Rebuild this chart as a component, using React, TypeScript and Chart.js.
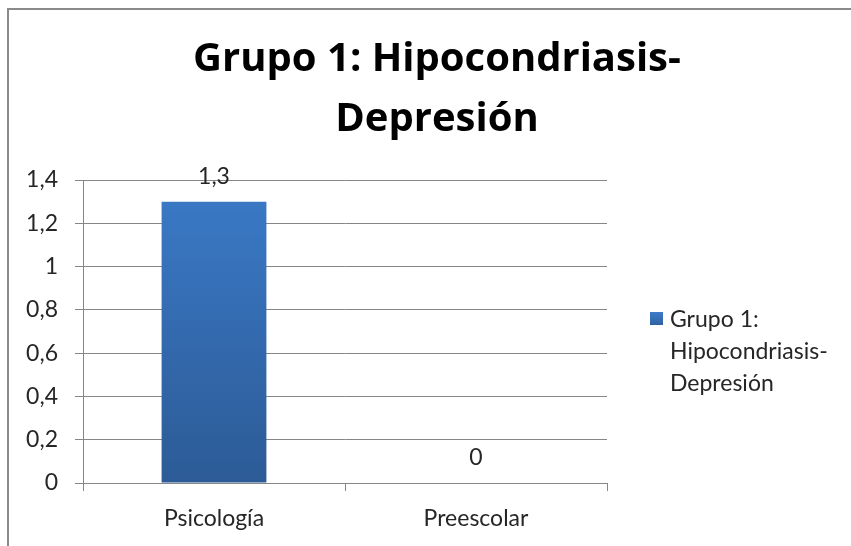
import React, { useEffect, useRef } from "react";
import { Chart, registerables } from "chart.js";

Chart.register(...registerables);

const categories = ["Psicología", "Preescolar"];
const values = [1.3, 0];
const seriesName = "Grupo 1: Hipocondriasis-Depresión";
const titleLines = ["Grupo 1: Hipocondriasis-", "Depresión"];
const legendLines = ["Grupo 1:", "Hipocondriasis-", "Depresión"];
const yMin = 0;
const yMax = 1.4;
const yStep = 0.2;

const FONT = "Lato, 'Noto Sans', sans-serif";
const TITLE_FONT = "'Open Sans', Lato, sans-serif";
const fmt = (v: number) => String(Math.round(v * 10) / 10).replace(".", ",");

export default function App() {
  const ref = useRef<HTMLCanvasElement | null>(null);

  useEffect(() => {
    if (!ref.current) return;

    const dataLabels = {
      id: "dataLabels",
      afterDatasetsDraw(chart: any) {
        const ctx = chart.ctx;
        const meta = chart.getDatasetMeta(0);
        ctx.save();
        ctx.font = `23px ${FONT}`;
        ctx.fillStyle = "#262626";
        ctx.textAlign = "center";
        ctx.textBaseline = "alphabetic";
        meta.data.forEach((el: any, i: number) => {
          ctx.fillText(fmt(values[i]), el.x, el.y - 18);
        });
        ctx.restore();
      },
    };

    const legendPlugin = {
      id: "sideLegend",
      afterDraw(chart: any) {
        const ctx = chart.ctx;
        const a = chart.chartArea;
        const x0 = a.right + 43;
        const y0 = a.top + 132;
        ctx.save();
        const g = ctx.createLinearGradient(0, y0, 0, y0 + 13);
        g.addColorStop(0, "#3d7cca");
        g.addColorStop(1, "#2f62a3");
        ctx.fillStyle = g;
        ctx.fillRect(x0, y0, 13, 13);
        ctx.font = `23px ${FONT}`;
        ctx.fillStyle = "#262626";
        ctx.textAlign = "left";
        ctx.textBaseline = "alphabetic";
        legendLines.forEach((t, i) => {
          ctx.fillText(t, x0 + 20, y0 + 14.7 + i * 32.3);
        });
        ctx.restore();
      },
    };

    const chart = new Chart(ref.current, {
      type: "bar",
      data: {
        labels: categories,
        datasets: [
          {
            label: seriesName,
            data: values,
            backgroundColor: (c: any) => {
              const ch = c.chart;
              const area = ch.chartArea;
              if (!area) return "#3570b5";
              const g = ch.ctx.createLinearGradient(0, area.top, 0, area.bottom);
              g.addColorStop(0, "#3b7ac8");
              g.addColorStop(1, "#2c5b96");
              return g;
            },
            borderWidth: 0,
            categoryPercentage: 1,
            barPercentage: 0.4,
          },
        ],
      },
      options: {
        animation: false,
        responsive: false,
        devicePixelRatio: 1,
        layout: { padding: 0 },
        plugins: {
          legend: { display: false },
          tooltip: { enabled: false },
          title: {
            display: true,
            text: titleLines,
            color: "#000",
            font: { family: TITLE_FONT, size: 40, weight: "bold", lineHeight: 60 / 40 },
            padding: { top: 20, bottom: 30 },
          },
        },
        scales: {
          x: {
            offset: true,
            grid: {
              offset: true,
              drawOnChartArea: false,
              drawTicks: true,
              tickLength: 8,
              color: "#868686",
            },
            border: { display: true, color: "#868686" },
            ticks: {
              color: "#262626",
              font: { family: FONT, size: 23 },
              padding: 14,
              maxRotation: 0,
            },
            afterFit: (s: any) => {
              s.height = 67;
            },
          },
          y: {
            min: yMin,
            max: yMax,
            grid: { color: "#868686", tickLength: 8, drawTicks: true },
            border: { display: true, color: "#868686" },
            ticks: {
              stepSize: yStep,
              color: "#262626",
              font: { family: FONT, size: 23 },
              padding: 17,
              callback: (v: any) => fmt(Number(v)),
            },
            afterFit: (s: any) => {
              s.width = 74;
            },
          },
          legendSpace: {
            type: "linear",
            position: "right",
            display: true,
            grid: { display: false, drawTicks: false },
            border: { display: false },
            ticks: { display: false },
            afterFit: (s: any) => {
              s.width = 258;
            },
          },
        },
      },
      plugins: [dataLabels, legendPlugin],
    } as any);

    return () => chart.destroy();
  }, []);

  return (
    <div
      style={{
        position: "absolute",
        left: 0,
        top: 0,
        width: 851,
        height: 546,
        overflow: "hidden",
        background: "#fff",
      }}
    >
      <div
        style={{
          position: "absolute",
          left: 7,
          top: 8,
          width: 856,
          height: 560,
          border: "2px solid #8a8a8a",
          background: "#fff",
        }}
      >
        <canvas ref={ref} width={856} height={540} style={{ display: "block", width: 856, height: 540 }} />
      </div>
    </div>
  );
}
